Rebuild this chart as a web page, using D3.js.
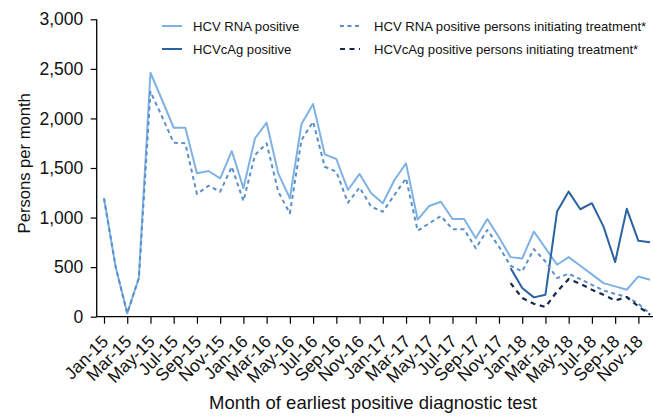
<!DOCTYPE html>
<html>
<head>
<meta charset="utf-8">
<script src="https://cdn.jsdelivr.net/npm/d3@7"></script>
<style>
  html, body { margin: 0; padding: 0; background: #fff; }
  svg { display: block; font-family: "Liberation Sans", Arial, sans-serif; }
</style>
</head>
<body>
<svg id="chart" width="653" height="416"></svg>
<script>
// ---- Data ----
const months = ["Jan-15","Feb-15","Mar-15","Apr-15","May-15","Jun-15","Jul-15","Aug-15","Sep-15","Oct-15","Nov-15","Dec-15",
  "Jan-16","Feb-16","Mar-16","Apr-16","May-16","Jun-16","Jul-16","Aug-16","Sep-16","Oct-16","Nov-16","Dec-16",
  "Jan-17","Feb-17","Mar-17","Apr-17","May-17","Jun-17","Jul-17","Aug-17","Sep-17","Oct-17","Nov-17","Dec-17",
  "Jan-18","Feb-18","Mar-18","Apr-18","May-18","Jun-18","Jul-18","Aug-18","Sep-18","Oct-18","Nov-18","Dec-18"];

const rnaPositive = [1195, 504, 34, 390, 2461, 2186, 1906, 1906, 1446, 1470, 1396, 1671,
  1295, 1800, 1957, 1446, 1194, 1944, 2146, 1638, 1591, 1278, 1440, 1245,
  1144, 1379, 1547, 980, 1117, 1160, 985, 985, 791, 985, 801, 601,
  587, 859, 692, 524, 601, 514, 427, 339, 306, 272, 406, 372];

const rnaTreated = [1194, 504, 34, 390, 2270, 2017, 1755, 1749, 1238, 1321, 1261, 1513,
  1167, 1631, 1749, 1261, 1043, 1782, 1967, 1513, 1463, 1150, 1303, 1110,
  1059, 1228, 1396, 867, 942, 1016, 882, 882, 690, 875, 706, 514,
  456, 682, 557, 389, 433, 379, 322, 265, 230, 200, 130, 30];

const cagPositive = [null,null,null,null,null,null,null,null,null,null,null,null,
  null,null,null,null,null,null,null,null,null,null,null,null,
  null,null,null,null,null,null,null,null,null,null,null,490,
  289, 195, 222, 1060, 1262, 1084, 1145, 909, 551, 1088, 765, 752];

const cagTreated = [null,null,null,null,null,null,null,null,null,null,null,null,
  null,null,null,null,null,null,null,null,null,null,null,null,
  null,null,null,null,null,null,null,null,null,null,null,339,
  188, 131, 98, 255, 379, 332, 272, 221, 164, 198, 104, 20];

const yTicks = [0, 500, 1000, 1500, 2000, 2500, 3000];
const xTickIdx = d3.range(0, 48, 2);

const seriesNames = ["HCV RNA positive", "HCVcAg positive",
  "HCV RNA positive persons initiating treatment*", "HCVcAg positive persons initiating treatment*"];

// ---- Layout ----
const FONT = "'Liberation Sans', Arial, sans-serif";
const svg = d3.select("#chart");
const axisX0 = 96.7;
const x = d3.scaleLinear().domain([0, 47]).range([104, 650]);
const y = d3.scaleLinear().domain([0, 3000]).range([316.7, 19.3]);

const styles = [
  { data: rnaPositive, color: "#7fb2e4", dash: null, width: 2 },
  { data: cagPositive, color: "#2a63a0", dash: null, width: 2 },
  { data: rnaTreated, color: "#5a8fc8", dash: "4,3.5", width: 2 },
  { data: cagTreated, color: "#14294b", dash: "5,4.5", width: 2.2 }
];

// ---- Axes ----
const yAxis = d3.axisLeft(y).tickValues(yTicks).tickSize(6).tickSizeOuter(0)
  .tickFormat(d3.format(","));
const gy = svg.append("g").attr("transform", `translate(${axisX0},0)`).call(yAxis);
gy.select(".domain").attr("d", `M0,${y(3000)}V${y(0)}`).attr("stroke", "#000").attr("stroke-width", 1.3);
gy.selectAll(".tick line").attr("stroke", "#000").attr("stroke-width", 1.2);
gy.selectAll(".tick text").attr("font-size", 17.5).attr("fill", "#111").attr("x", -13.4)
  .style("font-family", FONT);

const xAxis = d3.axisBottom(x).tickValues(xTickIdx).tickSize(7).tickSizeOuter(0)
  .tickFormat(i => months[i]);
const gx = svg.append("g").attr("transform", `translate(0,${y(0)})`).call(xAxis);
gx.select(".domain").attr("d", `M${axisX0},0H653`).attr("stroke", "#000").attr("stroke-width", 1.3);
gx.selectAll(".tick line").attr("stroke", "#000").attr("stroke-width", 1.2);
gx.selectAll(".tick text")
  .attr("font-size", 17.5).attr("fill", "#111")
  .style("font-family", FONT)
  .attr("text-anchor", "end")
  .attr("y", 0).attr("dy", 0)
  .attr("transform", "translate(5,26) rotate(-45)");

// ---- Lines ----
const line = d3.line()
  .defined(d => d != null)
  .x((d, i) => x(i))
  .y(d => y(d));

styles.forEach(s => {
  svg.append("path")
    .datum(s.data)
    .attr("fill", "none")
    .attr("stroke", s.color)
    .attr("stroke-width", s.width)
    .attr("stroke-linejoin", "round")
    .attr("stroke-dasharray", s.dash)
    .attr("d", line);
});

// ---- Axis titles ----
svg.append("text")
  .attr("x", 373).attr("y", 409)
  .attr("text-anchor", "middle").attr("font-size", 18.5).attr("fill", "#111")
  .text("Month of earliest positive diagnostic test");
svg.append("text")
  .attr("transform", "translate(30,163.3) rotate(-90)")
  .attr("text-anchor", "middle").attr("font-size", 16.6).attr("fill", "#111")
  .text("Persons per month");

// ---- Legend ----
const legendPos = [
  { x: 162, y: 26 }, { x: 162, y: 49 }, { x: 340, y: 26 }, { x: 340, y: 49 }
];
styles.forEach((s, k) => {
  const p = legendPos[k];
  svg.append("line")
    .attr("x1", p.x).attr("x2", p.x + 20).attr("y1", p.y).attr("y2", p.y)
    .attr("stroke", s.color).attr("stroke-width", s.width)
    .attr("stroke-dasharray", s.dash);
  svg.append("text")
    .attr("x", p.x + (k < 2 ? 31 : 34)).attr("y", p.y)
    .attr("dy", "0.35em")
    .attr("font-size", 13.1).attr("fill", "#111")
    .text(seriesNames[k]);
});
</script>
</body>
</html>
